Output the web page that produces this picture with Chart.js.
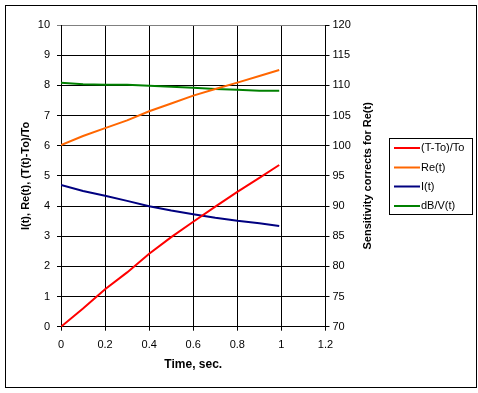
<!DOCTYPE html>
<html><head><meta charset="utf-8">
<script src="https://cdn.jsdelivr.net/npm/chart.js@4"></script>
<style>html,body{margin:0;padding:0;background:#fff;}canvas{display:block;}</style>
</head><body>
<canvas id="c" width="478" height="393"></canvas>
<script>
// ---- data ----
const timeSec   = [0, 0.1, 0.2, 0.3, 0.4, 0.5, 0.6, 0.7, 0.8, 0.9, 0.99];
const relTemp   = [0, 0.60, 1.24, 1.80, 2.42, 2.97, 3.48, 3.98, 4.47, 4.93, 5.36];   // (T-To)/To
const reT       = [6.02, 6.32, 6.58, 6.84, 7.14, 7.40, 7.66, 7.88, 8.09, 8.31, 8.51]; // Re(t)
const iT        = [4.70, 4.50, 4.34, 4.17, 3.99, 3.85, 3.73, 3.61, 3.51, 3.43, 3.34]; // I(t)
const dbvT      = [110.45, 110.2, 110.1, 110.1, 109.95, 109.75, 109.6, 109.4, 109.25, 109.1, 109.1]; // dB/V(t), right axis
const seriesLabels = ['(T-To)/To', 'Re(t)', 'I(t)', 'dB/V(t)'];
const leftTitle  = 'I(t), Re(t), (T(t)-To)/To';
const rightTitle = 'Sensitivity corrects for Re(t)';
const xTitle     = 'Time, sec.';

const FONT = "'Liberation Sans', Arial, sans-serif";
const pts = arr => arr.map((v, i) => ({x: timeSec[i], y: v}));

const framePlugin = {
  id: 'frame',
  beforeDraw(chart) {
    const ctx = chart.ctx;
    ctx.save();
    ctx.fillStyle = '#fff';
    ctx.fillRect(0, 0, chart.width, chart.height);
    ctx.strokeStyle = '#000';
    ctx.lineWidth = 1;
    ctx.strokeRect(5.5, 5.5, 471, 382);
    ctx.restore();
  },
  afterDraw(chart) {
    const ctx = chart.ctx;
    ctx.save();
    // right axis title, reading bottom-to-top
    const ca = chart.chartArea;
    ctx.translate(368, (ca.top + ca.bottom) / 2);
    ctx.rotate(-Math.PI / 2);
    ctx.font = 'bold 11px ' + FONT;
    ctx.fillStyle = '#000';
    ctx.textAlign = 'center';
    ctx.textBaseline = 'middle';
    ctx.fillText(rightTitle, 0, 0);
    ctx.restore();

    // legend box
    ctx.save();
    ctx.strokeStyle = '#000';
    ctx.lineWidth = 1;
    ctx.strokeRect(389.5, 138.5, 83, 76);
    ctx.font = '11px ' + FONT;
    ctx.textBaseline = 'middle';
    ctx.textAlign = 'left';
    const rows = [148, 167.5, 186.5, 206];
    chart.data.datasets.forEach((ds, i) => {
      const y = rows[i];
      ctx.strokeStyle = ds.borderColor;
      ctx.lineWidth = 2;
      ctx.beginPath();
      ctx.moveTo(394, y);
      ctx.lineTo(420, y);
      ctx.stroke();
      ctx.fillStyle = '#000';
      ctx.fillText(ds.label, 421, y);
    });
    ctx.restore();
  }
};

new Chart(document.getElementById('c'), {
  type: 'line',
  data: {
    datasets: [
      {label: seriesLabels[0], data: pts(relTemp), borderColor: '#FF0000', yAxisID: 'y'},
      {label: seriesLabels[1], data: pts(reT), borderColor: '#FF6600', yAxisID: 'y'},
      {label: seriesLabels[2], data: pts(iT), borderColor: '#000080', yAxisID: 'y'},
      {label: seriesLabels[3], data: pts(dbvT), borderColor: '#008000', yAxisID: 'y2'}
    ].map(d => Object.assign(d, {borderWidth: 2, pointRadius: 0, tension: 0, fill: false}))
  },
  options: {
    responsive: false,
    animation: false,
    devicePixelRatio: 1,
    layout: {padding: {top: 25, left: 0, right: 0, bottom: 0}},
    plugins: {legend: {display: false}, tooltip: {enabled: false}},
    scales: {
      x: {
        type: 'linear', position: 'bottom', min: 0, max: 1.2,
        ticks: {stepSize: 0.2, color: '#000', font: {family: FONT, size: 11}, padding: 8,
                callback: v => String(Math.round(v * 10) / 10)},
        grid: {color: '#000', lineWidth: 1, tickLength: 4},
        border: {color: '#000'},
        title: {display: true, text: xTitle, color: '#000', font: {family: FONT, size: 12, weight: 'bold'},
                padding: {top: 0, bottom: 21}},
        afterFit(s) { s.height = 66.3; }
      },
      y: {
        position: 'left', min: 0, max: 10,
        ticks: {stepSize: 1, color: '#000', font: {family: FONT, size: 11}, padding: 7},
        grid: {color: c => (c.tick && c.tick.value === 10) ? '#808080' : '#000', lineWidth: 1, tickLength: 4},
        border: {color: '#000'},
        title: {display: true, text: leftTitle, color: '#000', font: {family: FONT, size: 11, weight: 'bold'},
                padding: {top: 19, bottom: 0}},
        afterFit(s) { s.width = 61; }
      },
      y2: {
        position: 'right', min: 70, max: 120,
        ticks: {stepSize: 5, color: '#000', font: {family: FONT, size: 11}, padding: 3},
        grid: {drawOnChartArea: false, color: '#000', lineWidth: 1, tickLength: 4},
        border: {color: '#000'},
        afterFit(s) { s.width = 152.5; }
      }
    }
  },
  plugins: [framePlugin]
});
</script>
</body></html>
